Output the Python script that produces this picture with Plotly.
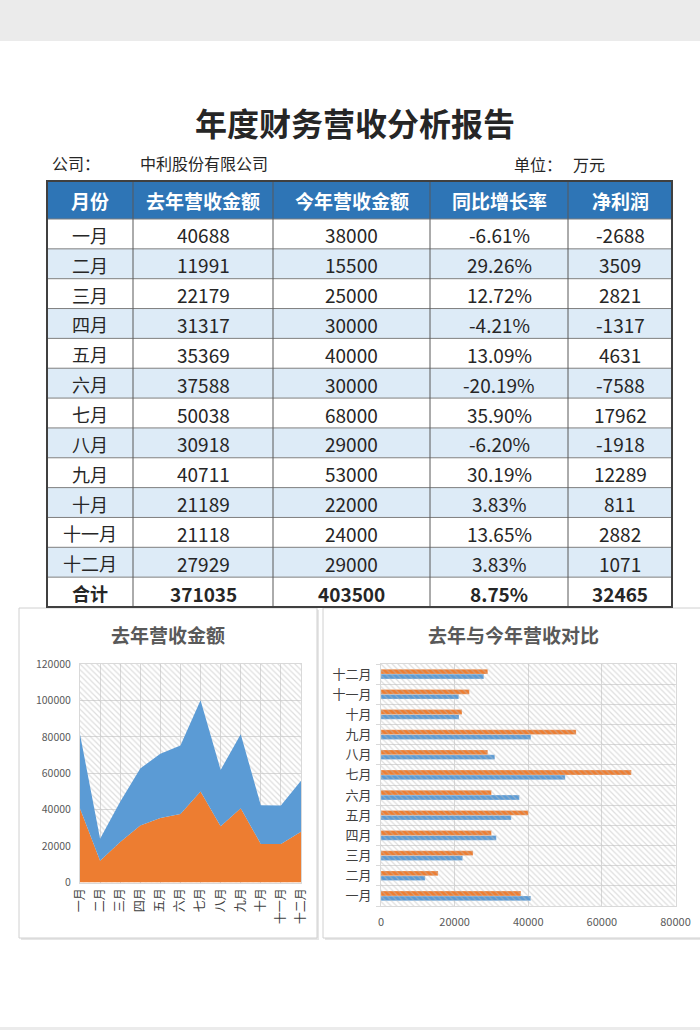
import plotly.graph_objects as go

W, H = 700, 1030

# ---------------- data ----------------
months = ["一月", "二月", "三月", "四月", "五月", "六月", "七月", "八月", "九月", "十月", "十一月", "十二月"]
last_year = [40688, 11991, 22179, 31317, 35369, 37588, 50038, 30918, 40711, 21189, 21118, 27929]
this_year = [38000, 15500, 25000, 30000, 40000, 30000, 68000, 29000, 53000, 22000, 24000, 29000]
growth_pct = [-6.61, 29.26, 12.72, -4.21, 13.09, -20.19, 35.90, -6.20, 30.19, 3.83, 13.65, 3.83]
net_profit = [-2688, 3509, 2821, -1317, 4631, -7588, 17962, -1918, 12289, 811, 2882, 1071]
total_row = ["合计", "371035", "403500", "8.75%", "32465"]
headers = ["月份", "去年营收金额", "今年营收金额", "同比增长率", "净利润"]
area_y_ticks = [0, 20000, 40000, 60000, 80000, 100000, 120000]
bar_x_ticks = [0, 20000, 40000, 60000, 80000]

ORANGE = "#ED7D31"
BLUE = "#5B9BD5"
GRID = "#D9D9D9"
FONT = "Noto Sans CJK SC"


def px(x):
    return x / W


def py(y):
    return 1 - y / H


shapes = []
annotations = []


def rect(x0, y0, x1, y1, fill=None, line=None, lw=0):
    shapes.append(dict(type="rect", xref="paper", yref="paper",
                       x0=px(x0), x1=px(x1), y0=py(y1), y1=py(y0),
                       fillcolor=fill if fill else "rgba(0,0,0,0)",
                       line=dict(color=line if line else "rgba(0,0,0,0)", width=lw),
                       layer="below"))


def hline(x0, x1, y, color, w):
    shapes.append(dict(type="line", xref="paper", yref="paper",
                       x0=px(x0), x1=px(x1), y0=py(y), y1=py(y),
                       line=dict(color=color, width=w), layer="above"))


def vline(x, y0, y1, color, w):
    shapes.append(dict(type="line", xref="paper", yref="paper",
                       x0=px(x), x1=px(x), y0=py(y0), y1=py(y1),
                       line=dict(color=color, width=w), layer="above"))


def text(x, y, s, size, color="#262626", anchor="center", bold=False):
    annotations.append(dict(xref="paper", yref="paper", x=px(x), y=py(y),
                            text=("<b>%s</b>" % s) if bold else s,
                            showarrow=False, xanchor=anchor, yanchor="middle",
                            font=dict(family=FONT, size=size, color=color)))


# background bands
rect(0, 0, W, 41, fill="#EBEBEB")
rect(0, 1027, W, H, fill="#EBEBEB")

# title & subtitle
text(355, 122, "年度财务营收分析报告", 32, "#262626", bold=True)
text(50, 163, "公司：", 16, "#262626", anchor="left")
text(138, 163, "中利股份有限公司", 16, "#262626", anchor="left")
text(512, 164, "单位：", 16, "#262626", anchor="left")
text(571, 164, "万元", 16, "#262626", anchor="left")

# ---------------- table ----------------
col_x = [47, 133, 273, 430, 568, 672]
top, head_bot, bottom = 181, 219, 607
n_rows = len(months) + 1
row_h = (bottom - head_bot) / n_rows

rect(col_x[0], top, col_x[-1], head_bot, fill="#2E75B6")
for i in range(n_rows):
    y0 = head_bot + i * row_h
    fill = "#DDEBF7" if (i % 2 == 1 and i < len(months)) else "#FFFFFF"
    rect(col_x[0], y0, col_x[-1], y0 + row_h, fill=fill)

# grid lines of the table
for i in range(n_rows):
    hline(col_x[0], col_x[-1], head_bot + i * row_h, "#7F7F7F", 1)
for x in col_x[1:-1]:
    vline(x, top, bottom, "#595959", 1)
shapes.append(dict(type="rect", xref="paper", yref="paper",
                   x0=px(col_x[0]), x1=px(col_x[-1]), y0=py(bottom), y1=py(top),
                   line=dict(color="#404040", width=2), layer="above"))

centers = [(col_x[k] + col_x[k + 1]) / 2 for k in range(5)]
for k, h in enumerate(headers):
    text(centers[k], (top + head_bot) / 2 + 1, h, 19, "#FFFFFF", bold=True)

for i, m in enumerate(months):
    yc = head_bot + (i + 0.5) * row_h + 1
    vals = [m, str(last_year[i]), str(this_year[i]), "%.2f%%" % growth_pct[i], str(net_profit[i])]
    for k, v in enumerate(vals):
        text(centers[k], yc, v, 18 if k == 0 else 19, "#262626")
yc = head_bot + (n_rows - 0.5) * row_h + 1
for k, v in enumerate(total_row):
    text(centers[k], yc, v, 18 if k == 0 else 19, "#262626", bold=True)

# ---------------- chart panels ----------------
rect(21, 610, 319, 940, fill="#E6E6E6")
rect(19, 608, 317, 938, fill="#FFFFFF", line="#D0D0D0", lw=1)
rect(325, 610, 704, 940, fill="#E6E6E6")
rect(323, 608, 702, 938, fill="#FFFFFF", line="#D0D0D0", lw=1)

text(168, 634, "去年营收金额", 19, "#595959", bold=True)
text(513, 634, "去年与今年营收对比", 19, "#595959", bold=True)

idx = list(range(len(months)))
hatch = dict(shape="\\", fgcolor="#BDBDBD", size=4, solidity=0.3)

traces = []
# left: hatched plot background + stacked area
traces.append(go.Scatter(
    x=[idx[0], idx[-1], idx[-1], idx[0], idx[0]],
    y=[area_y_ticks[0], area_y_ticks[0], area_y_ticks[-1], area_y_ticks[-1], area_y_ticks[0]],
    fill="toself", mode="none", fillcolor="rgba(0,0,0,0)", fillpattern=hatch,
    hoverinfo="skip", showlegend=False, xaxis="x", yaxis="y"))
traces.append(go.Scatter(x=idx, y=last_year, mode="lines", stackgroup="s",
                         line=dict(width=0, color=ORANGE), fillcolor=ORANGE,
                         showlegend=False, xaxis="x", yaxis="y"))
traces.append(go.Scatter(x=idx, y=last_year, mode="lines", stackgroup="s",
                         line=dict(width=0, color=BLUE), fillcolor=BLUE,
                         showlegend=False, xaxis="x", yaxis="y"))

# right: hatched plot background + grouped horizontal bars
traces.append(go.Scatter(
    x=[bar_x_ticks[0], bar_x_ticks[-1], bar_x_ticks[-1], bar_x_ticks[0], bar_x_ticks[0]],
    y=[idx[0] - 0.5, idx[0] - 0.5, idx[-1] + 0.5, idx[-1] + 0.5, idx[0] - 0.5],
    fill="toself", mode="none", fillcolor="rgba(0,0,0,0)", fillpattern=hatch,
    hoverinfo="skip", showlegend=False, xaxis="x2", yaxis="y2"))
traces.append(go.Bar(y=idx, x=last_year, orientation="h", name="去年营收金额",
                     marker=dict(color=BLUE, line=dict(color="rgba(255,255,255,0.5)", width=0.5)),
                     showlegend=False, xaxis="x2", yaxis="y2"))
traces.append(go.Bar(y=idx, x=this_year, orientation="h", name="今年营收金额",
                     marker=dict(color=ORANGE, line=dict(color="rgba(255,255,255,0.5)", width=0.5)),
                     showlegend=False, xaxis="x2", yaxis="y2"))

fig = go.Figure(data=traces)

fig.update_layout(
    width=W, height=H, autosize=False,
    margin=dict(l=0, r=0, t=0, b=0, pad=0),
    paper_bgcolor="#FFFFFF", plot_bgcolor="#FFFFFF",
    font=dict(family=FONT, color="#595959"),
    shapes=shapes, annotations=annotations,
    barmode="group", bargap=0.52, bargroupgap=0,
    showlegend=False,
    xaxis=dict(domain=[px(80), px(301)], range=[idx[0], idx[-1]],
               tickmode="array", tickvals=idx, ticktext=months, tickangle=-90,
               tickfont=dict(size=12, color="#404040"),
               showgrid=True, gridcolor=GRID, gridwidth=1, zeroline=False,
               showline=True, linecolor=GRID, mirror=True, ticks="",
               automargin=False, fixedrange=True),
    yaxis=dict(domain=[py(882.5), py(664)], range=[area_y_ticks[0], area_y_ticks[-1]],
               tickmode="array", tickvals=area_y_ticks, tickformat="d",
               tickfont=dict(size=10.5, color="#595959"),
               showgrid=True, gridcolor=GRID, gridwidth=1, zeroline=False,
               showline=True, linecolor=GRID, mirror=True, ticks="",
               ticklabelstandoff=6, automargin=False, fixedrange=True),
    xaxis2=dict(domain=[px(381), px(675.5)], range=[bar_x_ticks[0], bar_x_ticks[-1]],
                anchor="y2", tickmode="array", tickvals=bar_x_ticks, tickformat="d",
                tickfont=dict(size=11, color="#595959"),
                showgrid=True, gridcolor=GRID, gridwidth=1, zeroline=False,
                showline=True, linecolor=GRID, mirror=True, ticks="",
                ticklabelstandoff=6, automargin=False, fixedrange=True),
    yaxis2=dict(domain=[py(906), py(664)], range=[idx[0] - 0.5, idx[-1] + 0.5],
                anchor="x2", tickmode="array", tickvals=idx, ticktext=months,
                tickfont=dict(size=13, color="#404040"),
                showgrid=False, zeroline=False,
                showline=True, linecolor=GRID, mirror=True, ticks="",
                minor=dict(tickmode="array", tickvals=[i - 0.5 for i in range(len(months) + 1)],
                           showgrid=True, gridcolor=GRID, gridwidth=1,
                           ticks="outside", ticklen=4, tickcolor=GRID),
                ticklabelstandoff=6, automargin=False, fixedrange=True),
)

post = (
    "document.documentElement.style.margin='0';"
    "document.body.style.margin='0';"
    "document.body.style.overflow='hidden';"
)
fig.write_html("out.html", config={"displayModeBar": False}, post_script=post)
